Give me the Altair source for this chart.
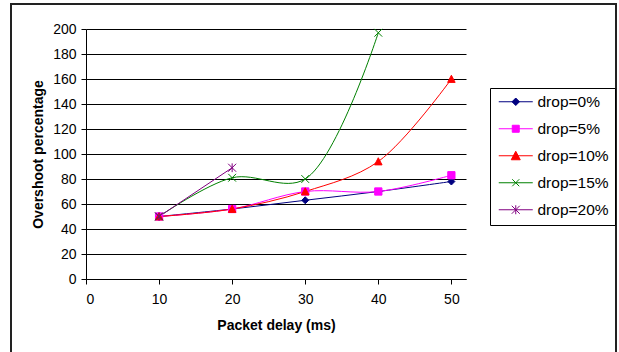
import altair as alt
import pandas as pd

series = ["drop=0%", "drop=5%", "drop=10%", "drop=15%", "drop=20%"]
colors = ["#000080", "#FF00FF", "#FF0000", "#008000", "#800080"]
delay = [10, 20, 30, 40, 50]
drop0 = [50, 56, 63, 70, 78]
drop5 = [50, 56, 70, 70, 83]
drop10 = [50, 56, 70, 94, 160]
drop15 = [50, 81, 80, 197]
drop20 = [50, 89]
x_ticks = [0, 10, 20, 30, 40, 50]
y_ticks = [0, 20, 40, 60, 80, 100, 120, 140, 160, 180, 200]

# marker shapes (unit square paths) and sizes
marker_paths = [
    "M0,-1L1,0L0,1L-1,0Z",
    "M-1,-1H1V1H-1Z",
    "M0,-1L1,0.9H-1Z",
    "M-1,-1L1,1M-1,1L1,-1",
    "M-1,-1L1,1M-1,1L1,-1M0,-1.1V1.1",
]
marker_sizes = [49, 64, 81, 64, 81]
legend_paths = [
    "M-1,0H5.8M2.4,-0.75L3.15,0L2.4,0.75L1.65,0Z",
    "M-1,0H5.8M1.7,-0.7H3.1V0.7H1.7Z",
    "M-1,0H5.8M2.4,-0.9L3.3,0.8H1.5Z",
    "M-1,0H5.8M1.7,-0.7L3.1,0.7M1.7,0.7L3.1,-0.7",
    "M-1,0H5.8M1.6,-0.8L3.2,0.8M1.6,0.8L3.2,-0.8M2.4,-0.9V0.9",
]

rows = []
for i, (name, vals) in enumerate(zip(series, [drop0, drop5, drop10, drop15, drop20])):
    for d, v in zip(delay, vals):
        rows.append({"series": name, "idx": i, "delay": d, "value": v})
df = pd.DataFrame(rows)
idx_domain = list(range(len(series)))

FONT = "Liberation Sans"

expr = "[" + ",".join("'" + p + "'" for p in legend_paths) + "][datum.index]"


def x_enc():
    return alt.X(
        "delay:Q",
        scale=alt.Scale(domain=[0, 52], nice=False, zero=True),
        axis=alt.Axis(
            values=x_ticks, grid=False, tickSize=5, labelPadding=8,
            labelFontSize=14, labelFont=FONT, labelColor="black",
            labelOverlap=False, domainColor="black", tickColor="black",
            title="Packet delay (ms)", titleFont=FONT, titleFontSize=14,
            titleFontWeight="bold", titleColor="black",
            titleY=46, titleBaseline="middle",
        ),
    )


def y_enc():
    return alt.Y(
        "value:Q",
        scale=alt.Scale(domain=[0, 200], nice=False),
        axis=alt.Axis(
            values=y_ticks, grid=True, gridColor="black", gridWidth=1,
            tickSize=5, labelPadding=5, labelFontSize=14, labelFont=FONT,
            labelColor="black", labelOverlap=False,
            domainColor="black", tickColor="black",
            title="Overshoot percentage", titleFont=FONT, titleFontSize=14,
            titleFontWeight="bold", titleColor="black",
            titleX=-48, titleY=125, titleAngle=270, titleAlign="center",
            titleBaseline="middle",
        ),
    )


frame = alt.Chart(alt.Data(values=[{}])).mark_rect(
    fillOpacity=0, stroke="#222222", strokeWidth=2
).encode(
    x=alt.value(-75), x2=alt.value(530), y=alt.value(-25), y2=alt.value(340)
)

lines = alt.Chart(df).mark_line(interpolate="catmull-rom", strokeWidth=1).encode(
    x=x_enc(),
    y=y_enc(),
    color=alt.Color("idx:N", scale=alt.Scale(domain=idx_domain, range=colors), legend=None),
)

legend = alt.Legend(
    title=None, orient="none", legendX=404, legendY=59,
    strokeColor="black", fillColor="white", padding=6,
    labelFontSize=15.5, labelFont=FONT, labelColor="black",
    symbolSize=100, labelOffset=26, rowPadding=10,
    symbolStrokeWidth=1, symbolOpacity=1,
    symbolType=alt.ExprRef(expr),
)

points = alt.Chart(df).mark_point(filled=True, opacity=1, strokeWidth=1).encode(
    x=x_enc(),
    y=y_enc(),
    fill=alt.Fill("series:N", scale=alt.Scale(domain=series, range=colors), legend=legend),
    stroke=alt.Stroke("series:N", scale=alt.Scale(domain=series, range=colors), legend=legend),
    shape=alt.Shape("idx:N", scale=alt.Scale(domain=idx_domain, range=marker_paths), legend=None),
    size=alt.Size("idx:N", scale=alt.Scale(domain=idx_domain, range=marker_sizes), legend=None),
)

chart = alt.layer(frame, lines, points).properties(
    width=380, height=250,
    padding={"left": 86, "top": 29, "right": 153, "bottom": 73},
    autosize="none", background="white",
).configure_view(stroke=None)

chart.save("out.html", embed_options={"renderer": "svg", "actions": False})
